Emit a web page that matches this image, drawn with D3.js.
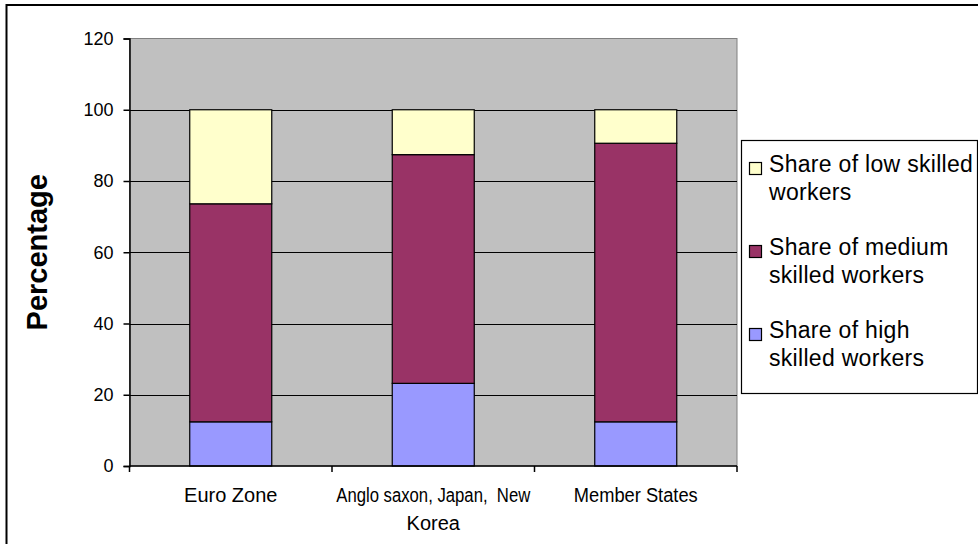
<!DOCTYPE html>
<html>
<head>
<meta charset="utf-8">
<script src="https://cdn.jsdelivr.net/npm/d3@7"></script>
<style>
  html, body { margin: 0; padding: 0; background: #fff; }
  svg { display: block; font-family: "Liberation Sans", Arial, sans-serif; }
</style>
</head>
<body>
<svg id="chart" width="978" height="544"></svg>
<script>
// Skill composition of the workforce, by region (percent)
const categories = ["Euro Zone", "Anglo saxon, Japan,  New Korea", "Member States"];
const seriesNames = ["Share of high skilled workers", "Share of medium skilled workers", "Share of low skilled workers"];
const highSkilled = [12.4, 23.2, 12.4];
const mediumSkilled = [61.2, 64.2, 78.2];
const lowSkilled = [26.4, 12.6, 9.4];
const seriesColors = ["#9999FF", "#993366", "#FFFFCC"];
const yTicks = [0, 20, 40, 60, 80, 100, 120];
const legendLines = [
  ["Share of low skilled", "workers"],
  ["Share of medium", "skilled workers"],
  ["Share of high", "skilled workers"]
];

const svg = d3.select("#chart");
const plot = { left: 129.5, right: 737, top: 38.5, bottom: 466 };

// outer chart frame (runs off the right and bottom edges)
svg.append("rect")
  .attr("x", 6.5).attr("y", 5).attr("width", 1100).attr("height", 700)
  .attr("fill", "#fff").attr("stroke", "#000").attr("stroke-width", 2);

const rows = categories.map((c, i) => ({
  cat: c, high: highSkilled[i], medium: mediumSkilled[i], low: lowSkilled[i]
}));
const keys = ["high", "medium", "low"];
const stacked = d3.stack().keys(keys)(rows);

const x = d3.scaleBand().domain(categories)
  .range([plot.left, plot.right])
  .paddingInner(0.595).paddingOuter(0.2975);
const y = d3.scaleLinear().domain([0, 120]).range([plot.bottom, plot.top]);

// plot area
svg.append("rect")
  .attr("x", plot.left).attr("y", plot.top)
  .attr("width", plot.right - plot.left).attr("height", plot.bottom - plot.top)
  .attr("fill", "#C0C0C0").attr("stroke", "#808080").attr("stroke-width", 1);

// horizontal gridlines
svg.append("g").selectAll("line")
  .data(yTicks.filter(t => t > 0 && t < 120))
  .join("line")
  .attr("x1", plot.left).attr("x2", plot.right)
  .attr("y1", d => Math.round(y(d)) + 0.5).attr("y2", d => Math.round(y(d)) + 0.5)
  .attr("stroke", "#000").attr("stroke-width", 1);

// stacked bars
const layers = svg.append("g").selectAll("g")
  .data(stacked).join("g")
  .attr("fill", (d, i) => seriesColors[i]);
layers.selectAll("rect")
  .data(d => d).join("rect")
  .attr("x", d => x(d.data.cat))
  .attr("width", x.bandwidth())
  .attr("y", d => y(d[1]))
  .attr("height", d => y(d[0]) - y(d[1]))
  .attr("stroke", "#000").attr("stroke-width", 1.2);

// y axis
const yAxis = d3.axisLeft(y).tickValues(yTicks).tickSize(6).tickPadding(10);
const gy = svg.append("g").attr("transform", `translate(${plot.left},0)`).call(yAxis);
gy.select(".domain").attr("stroke", "#000").attr("stroke-width", 1.5);
gy.selectAll(".tick line").attr("stroke", "#000").attr("stroke-width", 1.5);
gy.selectAll(".tick text").attr("font-size", 18).attr("fill", "#000")
  .attr("font-family", "Liberation Sans, Arial, sans-serif");

// x axis: ticks fall on category boundaries
const boundaries = d3.range(categories.length + 1).map(i => plot.left + i * x.step());
const gx = svg.append("g");
gx.append("line")
  .attr("x1", plot.left).attr("x2", plot.right)
  .attr("y1", plot.bottom).attr("y2", plot.bottom)
  .attr("stroke", "#000").attr("stroke-width", 1.5);
gx.selectAll("line.tk").data(boundaries).join("line").attr("class", "tk")
  .attr("x1", d => d).attr("x2", d => d)
  .attr("y1", plot.bottom).attr("y2", plot.bottom + 6)
  .attr("stroke", "#000").attr("stroke-width", 1.5);

// category labels, wrapped over two lines where they are long
const catLines = [["Euro Zone"], ["Anglo saxon, Japan,  New", "Korea"], ["Member States"]];
const fitWidth = [[null], [194, null], [124]];
const catLabel = svg.append("g").attr("font-size", 20).attr("fill", "#000")
  .attr("text-anchor", "middle");
categories.forEach((c, i) => {
  const cx = x(c) + x.bandwidth() / 2;
  const t = catLabel.append("text").style("white-space", "pre");
  catLines[i].forEach((ln, j) => {
    const sp = t.append("tspan").attr("x", cx).attr("y", 502 + j * 28).text(ln);
    if (fitWidth[i][j]) sp.attr("textLength", fitWidth[i][j]).attr("lengthAdjust", "spacingAndGlyphs");
  });
});

// y axis title
svg.append("text")
  .attr("transform", `translate(47,${(plot.top + plot.bottom) / 2}) rotate(-90)`)
  .attr("text-anchor", "middle")
  .attr("font-size", 29).attr("font-weight", "bold").attr("fill", "#000")
  .text("Percentage");

// legend
const lg = svg.append("g");
lg.append("rect")
  .attr("x", 741.5).attr("y", 140.5).attr("width", 236).attr("height", 253)
  .attr("fill", "#fff").attr("stroke", "#000").attr("stroke-width", 1.2);
const legendOrder = [2, 1, 0];
legendOrder.forEach((si, k) => {
  const baseY = 172 + k * 83;
  lg.append("rect")
    .attr("x", 749.5).attr("y", baseY - 9.5).attr("width", 12).attr("height", 12)
    .attr("fill", seriesColors[si]).attr("stroke", "#000").attr("stroke-width", 1.2);
  const t = lg.append("text").attr("font-size", 23).attr("letter-spacing", 0.3).attr("fill", "#000");
  legendLines[k].forEach((ln, j) => {
    t.append("tspan").attr("x", 769).attr("y", baseY + j * 28).text(ln);
  });
});
</script>
</body>
</html>
